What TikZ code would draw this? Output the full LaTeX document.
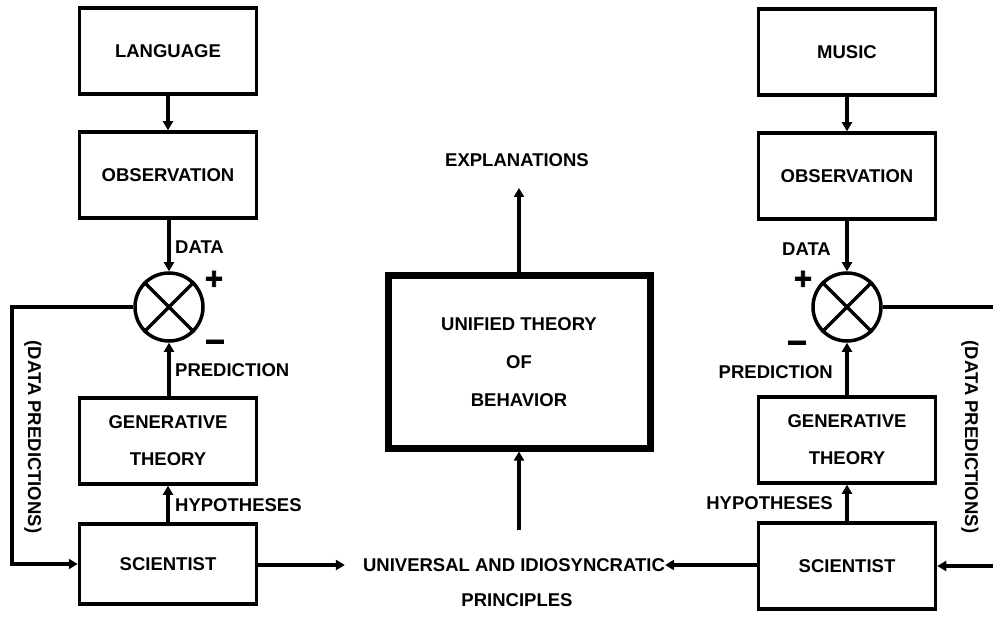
\documentclass[tikz,border=0pt]{standalone}
\usepackage{fontspec}
\setmainfont{Liberation Sans}
\newfontfamily\signfont[FakeBold=2.5]{Liberation Sans}
\usetikzlibrary{arrows.meta}

\begin{document}
\begin{tikzpicture}[x=1pt,y=-1pt,
  font=\bfseries\fontsize{18.5}{22}\selectfont,
  blk/.style={draw, line width=3.5pt, minimum width=177pt, minimum height=86pt,
              align=center, inner sep=0pt},
  bigblk/.style={draw, line width=7pt, minimum width=262pt, minimum height=172pt,
              align=center, inner sep=0pt},
  cmp/.style={draw, circle, line width=3.5pt, minimum size=68pt, inner sep=0pt},
  wire/.style={line width=3.5pt},
  flow/.style={wire, -{Triangle[length=9pt,width=10pt]}},
  lbl/.style={inner sep=0pt},
  sign/.style={inner sep=0pt, font=\signfont\bfseries\fontsize{24}{24}\selectfont},
  plussign/.style={inner sep=0pt, font=\signfont\bfseries\fontsize{31}{31}\selectfont}
]
\useasboundingbox (0,0) rectangle (993,620);

% ---------- left column: language ----------
\node[blk] (lang) at (168,51) {LANGUAGE};
\node[blk] (obsL) at (168,175) {OBSERVATION};
\node[cmp] (cmpL) at (169,307) {};
\draw[wire] (cmpL.north east) -- (cmpL.south west);
\draw[wire] (cmpL.north west) -- (cmpL.south east);
\node[blk] (genL) at (168,441) {GENERATIVE\\[15pt]THEORY};
\node[blk, minimum height=80pt] (sciL) at (168,564) {SCIENTIST};

\draw[flow] (lang) -- (obsL);
\draw[flow] (obsL.south -| cmpL) -- (cmpL.north);
\draw[flow] (genL.north -| cmpL) -- (cmpL.south);
\draw[flow] (sciL) -- (genL);

\node[lbl, anchor=west] (dataL) at (175,247) {DATA};
\node[lbl, anchor=west] (predL) at (175,370) {PREDICTION};
\node[lbl, anchor=west] (hypL) at (175,505) {HYPOTHESES};
\node[plussign] (plusL) at (214,280) {+};
\node[sign] (minusL) at (215,346) {\scalebox{1.4}[1.3]{\textminus}};

\coordinate (edgeL) at (12,0);
\draw[flow] (cmpL.west) -- (cmpL.west -| edgeL) |- (sciL.west);
\node[lbl, rotate=-90] (dpL) at (33,437) {(DATA PREDICTIONS)};

% ---------- right column: music ----------
\node[blk] (music) at (847,52) {MUSIC};
\node[blk] (obsR) at (847,176) {OBSERVATION};
\node[cmp] (cmpR) at (847,307) {};
\draw[wire] (cmpR.north east) -- (cmpR.south west);
\draw[wire] (cmpR.north west) -- (cmpR.south east);
\node[blk] (genR) at (847,440) {GENERATIVE\\[15pt]THEORY};
\node[blk] (sciR) at (847,566) {SCIENTIST};

\draw[flow] (music) -- (obsR);
\draw[flow] (obsR.south -| cmpR) -- (cmpR.north);
\draw[flow] (genR.north -| cmpR) -- (cmpR.south);
\draw[flow] (sciR) -- (genR);

\node[lbl, anchor=east] (dataR) at (831,249) {DATA};
\node[lbl, anchor=east] (predR) at (833,372) {PREDICTION};
\node[lbl, anchor=east] (hypR) at (833,503) {HYPOTHESES};
\node[plussign] (plusR) at (803,280) {+};
\node[sign] (minusR) at (797,347) {\scalebox{1.4}[1.3]{\textminus}};

\coordinate (edgeR) at (993,0);
\draw[wire] (cmpR.east) -- (cmpR.east -| edgeR);
\draw[flow] (sciR.east -| edgeR) -- (sciR.east);
\node[lbl, rotate=-90] (dpR) at (970,437) {(DATA PREDICTIONS)};

% ---------- centre: unified theory ----------
\node[bigblk] (uni) at (519,362) {UNIFIED THEORY\\[16pt]OF\\[16pt]BEHAVIOR};
\node[lbl] (expl) at (517,160) {EXPLANATIONS};
\coordinate (explTip) at (519,188);
\draw[flow] (uni.north) -- (explTip);

\node[lbl] (univ) at (514,565) {UNIVERSAL AND IDIOSYNCRATIC};
\node[lbl] (princ) at (517,600) {PRINCIPLES};
\coordinate (uniBase) at (519,530);
\draw[flow] (uniBase) -- (uni.south);

\draw[flow] (univ.west -| sciL.east) -- ([xshift=-18pt]univ.west);
\draw[flow] (univ.east -| sciR.west) -- (univ.east);
\end{tikzpicture}
\end{document}
